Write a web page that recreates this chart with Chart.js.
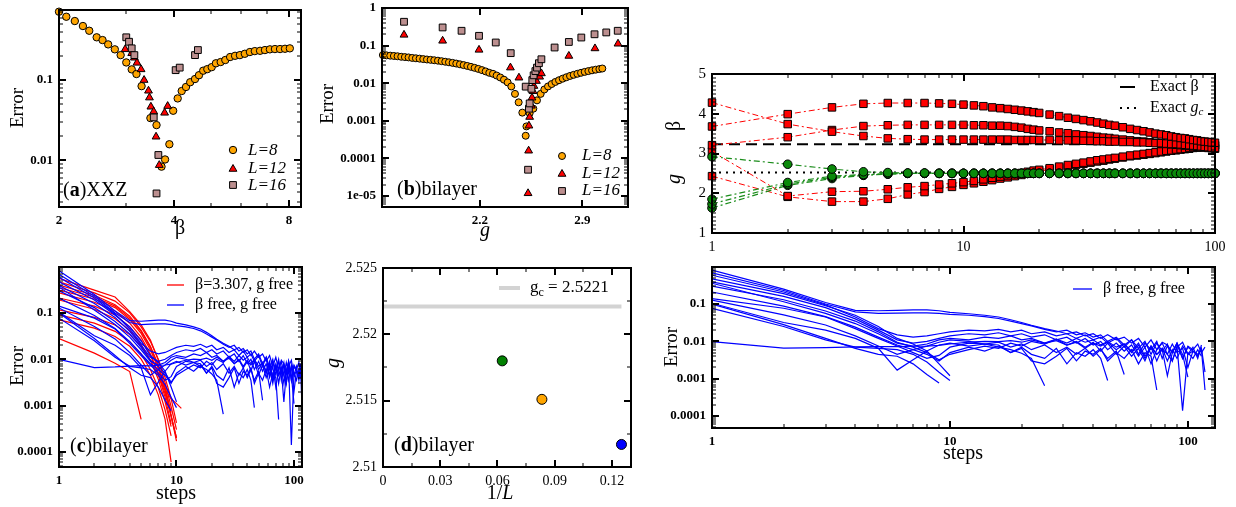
<!DOCTYPE html>
<html>
<head>
<meta charset="utf-8">
<title>Error and parameter convergence</title>
<script src="https://cdn.jsdelivr.net/npm/chart.js@4.4.1/dist/chart.umd.min.js"></script>
<style>
  body { margin: 0; background: #fff; }
  #page { position: relative; width: 1236px; height: 507px; overflow: hidden; background: #fff; }
  .panel { position: absolute; }
</style>
</head>
<body>
<div id="page"></div>
<script>
// ---- (a) XXZ: error vs beta ----
const betaA8 = [2.00,2.09,2.20,2.31,2.40,2.51,2.60,2.69,2.80,2.90,3.00,3.10,3.19,3.29,3.47,3.60,3.71,3.79,3.89,3.98,4.09,4.19,4.30,4.41,4.54,4.65,4.77,4.89,5.02,5.15,5.30,5.45,5.61,5.78,5.95,6.13,6.32,6.51,6.72,6.92,7.13,7.35,7.58,7.81,8.04];
const errA8 = [0.714,0.618,0.546,0.473,0.413,0.342,0.316,0.279,0.242,0.205,0.166,0.136,0.119,0.084,0.0335,0.0274,0.0083,0.0102,0.0158,0.0414,0.059,0.073,0.082,0.094,0.103,0.115,0.131,0.137,0.145,0.162,0.168,0.178,0.194,0.201,0.205,0.213,0.224,0.230,0.232,0.237,0.242,0.244,0.244,0.246,0.249];
const betaA12 = [2.98,3.10,3.15,3.20,3.28,3.34,3.43,3.45,3.48,3.54,3.59,3.66,3.78,3.85];
const errA12 = [0.242,0.216,0.19,0.164,0.136,0.100,0.0735,0.0604,0.0464,0.0404,0.0196,0.00866,0.039,0.0473];
const betaA16 = [3.00,3.05,3.10,3.15,3.54,3.60,3.64,4.04,4.14,4.54,4.62];
const errA16 = [0.342,0.301,0.249,0.205,0.0342,0.00384,0.0116,0.133,0.143,0.205,0.237];

// ---- (b) bilayer: error vs g ----
const gB8 = [1.54,1.565,1.59,1.615,1.64,1.665,1.69,1.715,1.74,1.765,1.79,1.815,1.84,1.865,1.89,1.915,1.94,1.965,1.99,2.015,2.04,2.065,2.09,2.115,2.14,2.165,2.19,2.215,2.24,2.265,2.29,2.315,2.34,2.365,2.39,2.415,2.44,2.465,2.49,2.513,2.518,2.54,2.565,2.59,2.615,2.64,2.665,2.69,2.715,2.74,2.765,2.79,2.815,2.84,2.865,2.89,2.915,2.94,2.965,2.99,3.015,3.035];
const errB8 = [0.056,0.055,0.054,0.053,0.052,0.0505,0.0495,0.0485,0.047,0.046,0.045,0.0438,0.0427,0.0418,0.0408,0.0397,0.0385,0.0372,0.036,0.0347,0.0333,0.0318,0.0303,0.0288,0.0272,0.0256,0.024,0.0223,0.0206,0.0189,0.0178,0.016,0.0142,0.0124,0.0105,0.0082,0.0052,0.0031,0.00165,0.0004,0.00071,0.0016,0.0021,0.0035,0.0052,0.0068,0.0082,0.0095,0.0108,0.0120,0.0132,0.0144,0.0156,0.0167,0.0178,0.0189,0.0200,0.0210,0.0220,0.0229,0.0238,0.0246];
const gB12 = [1.684,1.947,2.195,2.409,2.467,2.529,2.533,2.535,2.540,2.552,2.556,2.563,2.569,2.586,2.608,2.620,2.807,2.985,3.142];
const errB12 = [0.193,0.134,0.077,0.026,0.014,1.18e-5,1.6e-4,7.4e-4,1.26e-3,2.5e-3,4.1e-3,6.1e-3,8.4e-3,0.0114,0.0148,0.0182,0.053,0.084,0.112];
const gB16 = [1.684,1.947,2.076,2.195,2.309,2.411,2.513,2.529,2.535,2.540,2.552,2.558,2.567,2.579,2.590,2.603,2.620,2.710,2.807,2.892,2.982,3.062,3.140];
const errB16 = [0.43,0.304,0.248,0.182,0.121,0.063,0.0081,5e-5,0.0021,0.0029,0.0071,0.0121,0.0162,0.021,0.026,0.034,0.0433,0.089,0.125,0.164,0.20,0.224,0.248];

// ---- (c) and lower right: error vs steps ----
const stepsR = [1,2,3,4,5,6,7,8,9,10,11];
const redRuns = [
  [0.56,0.31,0.22,0.107,0.055,0.026,0.0096,0.0031,0.00094,0.0003],
  [0.47,0.27,0.18,0.1,0.05,0.024,0.01,0.004,0.0014,0.00042],
  [0.40,0.24,0.15,0.085,0.042,0.019,0.0075,0.0025,0.0007],
  [0.31,0.2,0.13,0.072,0.036,0.016,0.0062,0.0021,0.0006,0.00017],
  [0.27,0.17,0.11,0.06,0.03,0.013,0.0048,0.0015,0.0004],
  [0.21,0.14,0.09,0.05,0.026,0.012,0.005,0.0018,0.0006,0.0002],
  [0.19,0.12,0.075,0.042,0.021,0.0095,0.0037,0.0012,0.00035],
  [0.116,0.08,0.055,0.034,0.019,0.0095,0.0045,0.0022,0.0014,0.0011,0.00087],
  [0.091,0.06,0.04,0.024,0.013,0.006,0.0024,0.0008,0.00022],
  [0.071,0.047,0.031,0.019,0.01,0.0045,0.0017,0.0005,0.00006],
  [0.028,0.0135,0.0082,0.0054,0.0005],
  [0.35,0.22,0.14,0.078,0.04,0.018,0.007,0.0023,0.0006,0.0002]
];
const stepsB = [1,2,3,4,5,6,7,8,9,10,12,14,16,18,20,22,25,28,31,34,37,40,43,46,50,54,58,62,66,70,74,78,82,86,90,95,100,105,110,114,118];
const blueRuns = [
  [0.81,0.25,0.11,0.068,0.066,0.068,0.07,0.07,0.066,0.06,0.055,0.05,0.045,0.038,0.032,0.027,0.022,0.019,0.016,0.018,0.014,0.016,0.012,0.015,0.011,0.013,0.009,0.012,0.007,0.011,0.006,0.0095,0.008,0.005,0.009,0.0035,0.0075,0.006,0.0085,0.005,0.007],
  [0.68,0.23,0.1,0.062,0.056,0.057,0.058,0.058,0.056,0.053,0.05,0.046,0.041,0.035,0.03,0.026,0.021,0.018,0.02,0.015,0.017,0.013,0.015,0.01,0.013,0.008,0.011,0.0065,0.01,0.0045,0.009,0.0055,0.0085,0.003,0.007,0.0095,0.0045,0.007,0.0035,0.008],
  [0.59,0.21,0.095,0.045,0.022,0.015,0.013,0.014,0.016,0.018,0.02,0.019,0.021,0.018,0.02,0.016,0.018,0.014,0.016,0.012,0.015,0.011,0.013,0.009,0.012,0.007,0.011,0.0045,0.009,0.006,0.01,0.0035,0.0075,0.005,0.009,0.0045,0.0011],
  [0.39,0.16,0.08,0.04,0.02,0.011,0.009,0.01,0.012,0.014,0.016,0.015,0.017,0.014,0.016,0.013,0.015,0.011,0.013,0.009,0.012,0.008,0.01,0.006,0.009,0.0055,0.008,0.004,0.007,0.0025,0.006,0.009,0.0045,0.003,0.0075,0.00014,0.005,0.0035,0.006,0.004],
  [0.36,0.115,0.056,0.03,0.016,0.009,0.0075,0.0085,0.011,0.012,0.011,0.013,0.012,0.014,0.011,0.012,0.009,0.0115,0.008,0.01,0.007,0.0095,0.0055,0.009,0.0045,0.0075,0.004,0.0065,0.003,0.0075,0.0045,0.006,0.0012,0.005,0.0085,0.0035,0.007,0.0055,0.0045,0.006,0.0005],
  [0.21,0.088,0.046,0.024,0.013,0.008,0.006,0.0075,0.0095,0.011,0.01,0.0085,0.0095,0.007,0.0085,0.006,0.008,0.005,0.007,0.0045,0.0065,0.004,0.006,0.0035,0.0055,0.0013],
  [0.14,0.077,0.045,0.022,0.012,0.0075,0.005,0.0035,0.0042,0.007,0.009,0.0085,0.008,0.005,0.007,0.0045,0.0035,0.0065,0.0025,0.005,0.004,0.006,0.0035,0.0009],
  [0.128,0.051,0.0275,0.014,0.0075,0.0045,0.006,0.0045,0.003,0.005,0.007,0.0055,0.0075,0.005,0.0065,0.003,0.0025,0.004,0.0065,0.003,0.0055,0.0045,0.0065,0.003,0.005,0.0035,0.006,0.0025,0.005,0.004,0.0005],
  [0.105,0.032,0.02,0.012,0.0065,0.0017,0.0032,0.0055,0.008,0.009,0.0075,0.0085,0.007,0.006,0.0048,0.0035,0.00065],
  [0.099,0.028,0.012,0.0065,0.0045,0.004,0.0025,0.0013,0.00077],
  [0.077,0.025,0.011,0.007,0.0065,0.006,0.0045,0.0028,0.0015,0.0009],
  [0.0099,0.0066,0.0068,0.0071,0.0073,0.0072,0.0074,0.0075,0.0078,0.0085,0.0095,0.01,0.0098,0.0105,0.0095,0.011,0.009,0.0105,0.008,0.0095,0.0065,0.009,0.0075,0.0095,0.006,0.0085,0.005,0.008,0.0035,0.007,0.0045,0.0065,0.003,0.006,0.0035,0.0075,0.0045,0.0055,0.004,0.0065,0.0015],
  [0.3,0.13,0.065,0.035,0.018,0.0095,0.007,0.005,0.0032,0.0045,0.006,0.0075,0.0065,0.009,0.0075,0.01,0.0085,0.0115,0.009,0.012,0.0095,0.011,0.008,0.01,0.007,0.0085,0.0055,0.009,0.004,0.0075,0.003,0.0065,0.0045,0.0085,0.005,0.0065,0.002,0.0055],
  [0.47,0.19,0.09,0.05,0.025,0.012,0.0085,0.0055,0.0025,0.0012]
];

// ---- (d) finite-size g estimates ----
const invL = [0.0625, 0.0833, 0.125];
const gEst = [2.518, 2.5151, 2.5117];
const gEstColors = ['#008000', '#ffa500', '#0000ff'];
const gcExact = 2.5221;

// ---- upper right: beta and g vs steps ----
const stepsT = [1,2,3,4,5,6,7,8,9,10,11,12,13,14,15,16,17,18,19,20,22,24,26,28,30,32,34,36,38,40,43,46,49,52,55,58,61,64,67,70,73,76,79,82,85,88,91,94,97,100];
const betaRuns = [
  [3.68,3.99,4.16,4.25,4.27,4.27,4.27,4.26,4.25,4.23,4.21,4.19,4.16,4.14,4.12,4.10,4.08,4.06,4.04,4.02,3.98,3.94,3.90,3.87,3.84,3.81,3.78,3.75,3.72,3.70,3.66,3.62,3.59,3.56,3.53,3.50,3.48,3.46,3.43,3.41,3.39,3.38,3.36,3.34,3.33,3.31,3.30,3.29,3.28,3.27],
  [4.28,3.74,3.55,3.44,3.38,3.36,3.35,3.35,3.35,3.35,3.35,3.35,3.35,3.35,3.35,3.34,3.34,3.34,3.34,3.34,3.34,3.33,3.33,3.33,3.32,3.32,3.31,3.31,3.30,3.30,3.29,3.29,3.28,3.28,3.27,3.26,3.26,3.25,3.24,3.24,3.23,3.22,3.21,3.20,3.19,3.18,3.17,3.16,3.15,3.14],
  [3.21,3.41,3.59,3.69,3.71,3.72,3.72,3.72,3.72,3.72,3.71,3.71,3.70,3.70,3.69,3.67,3.65,3.62,3.60,3.58,3.56,3.53,3.51,3.48,3.46,3.44,3.42,3.40,3.39,3.37,3.35,3.33,3.31,3.30,3.28,3.27,3.25,3.24,3.23,3.22,3.21,3.20,3.19,3.18,3.17,3.16,3.15,3.14,3.13,3.12],
  [3.05,1.93,2.04,2.05,2.10,2.15,2.18,2.22,2.25,2.28,2.31,2.35,2.39,2.42,2.45,2.48,2.51,2.54,2.57,2.59,2.63,2.67,2.71,2.74,2.77,2.80,2.83,2.85,2.87,2.89,2.92,2.95,2.97,2.99,3.01,3.03,3.05,3.07,3.08,3.10,3.11,3.12,3.14,3.15,3.16,3.17,3.18,3.19,3.20,3.21],
  [2.43,1.91,1.79,1.79,1.86,1.97,2.03,2.11,2.16,2.21,2.25,2.29,2.33,2.37,2.40,2.43,2.46,2.49,2.52,2.55,2.60,2.64,2.68,2.71,2.74,2.77,2.80,2.82,2.85,2.87,2.90,2.93,2.95,2.97,2.99,3.01,3.03,3.05,3.07,3.08,3.10,3.11,3.12,3.14,3.15,3.16,3.17,3.18,3.19,3.20]
];
const gRuns = [
  [2.92,2.73,2.61,2.54,2.52,2.51,2.51,2.50,2.50,2.50,2.50,2.50,2.50,2.50,2.50,2.50,2.50,2.50,2.50,2.50,2.50,2.50,2.50,2.50,2.50,2.50,2.50,2.50,2.50,2.50,2.50,2.50,2.50,2.50,2.50,2.50,2.50,2.50,2.50,2.50,2.50,2.50,2.50,2.50,2.50,2.50,2.50,2.50,2.50,2.50],
  [1.85,2.27,2.43,2.47,2.49,2.50,2.50,2.50,2.50,2.50,2.50,2.50,2.50,2.50,2.50,2.50,2.50,2.50,2.50,2.50,2.50,2.50,2.50,2.50,2.50,2.50,2.50,2.50,2.50,2.50,2.50,2.50,2.50,2.50,2.50,2.50,2.50,2.50,2.50,2.50,2.50,2.50,2.50,2.50,2.50,2.50,2.50,2.50,2.50,2.50],
  [1.73,2.23,2.40,2.46,2.49,2.50,2.50,2.50,2.50,2.50,2.50,2.50,2.50,2.50,2.50,2.50,2.50,2.50,2.50,2.50,2.50,2.50,2.50,2.50,2.50,2.50,2.50,2.50,2.50,2.50,2.50,2.50,2.50,2.50,2.50,2.50,2.50,2.50,2.50,2.50,2.50,2.50,2.50,2.50,2.50,2.50,2.50,2.50,2.50,2.50],
  [1.63,2.20,2.37,2.45,2.48,2.50,2.50,2.50,2.50,2.50,2.50,2.50,2.50,2.50,2.50,2.50,2.50,2.50,2.50,2.50,2.50,2.50,2.50,2.50,2.50,2.50,2.50,2.50,2.50,2.50,2.50,2.50,2.50,2.50,2.50,2.50,2.50,2.50,2.50,2.50,2.50,2.50,2.50,2.50,2.50,2.50,2.50,2.50,2.50,2.50]
];
const betaExact = 3.23;
const gcLine = 2.5221;

// ---------------------------------------------------------------
const FAM = '"Liberation Serif", "Times New Roman", serif';
const F = (size, style) => (style ? style + ' ' : '') + size + 'px ' + FAM;
const tickBold = {family: FAM, size: 13, weight: 'bold'};
const tickNorm = {family: FAM, size: 14};

const pts = (xs, ys) => ys.map((y, i) => ({x: xs[i], y}));

function logTicks(lo, hi) {
  const out = [];
  for (let e = Math.floor(Math.log10(lo)); e <= Math.ceil(Math.log10(hi)); e++) {
    for (let k = 1; k < 10; k++) {
      const v = +(k * Math.pow(10, e)).toPrecision(6);
      if (v >= lo && v <= hi) out.push(v);
    }
  }
  return out;
}
function linTicks(lo, hi, st) {
  const out = [];
  for (let i = 0; lo + i * st <= hi + 1e-9; i++) out.push(+(lo + i * st).toFixed(6));
  return out;
}
const near = (list, v) => list.find(l => Math.abs(l - v) <= 1e-9 + 1e-6 * Math.abs(l));

// axis set-up and free text per canvas
const panelInfo = new WeakMap();

function axis(type, min, max, ticks, labels, font, fmt) {
  return {
    type, min, max,
    grid: {display: false, drawTicks: false},
    border: {display: false},
    afterBuildTicks: s => { s.ticks = ticks.map(v => ({value: v})); },
    ticks: {
      autoSkip: false, maxRotation: 0, minRotation: 0, padding: 6, color: '#000', font,
      callback: v => {
        const u = near(labels, v);
        return u === undefined ? '' : (fmt ? fmt(u) : String(u));
      }
    },
    $spec: {type, min, max, list: ticks, labels}
  };
}

function mark(ctx, st, x, y, r, fill) {
  ctx.beginPath();
  if (st === 'circle') ctx.arc(x, y, r, 0, Math.PI * 2);
  else if (st === 'triangle') {
    ctx.moveTo(x, y - r); ctx.lineTo(x + r * 0.866, y + r * 0.5); ctx.lineTo(x - r * 0.866, y + r * 0.5); ctx.closePath();
  } else { const h = r * Math.SQRT1_2; ctx.rect(x - h, y - h, 2 * h, 2 * h); }
  ctx.fillStyle = fill; ctx.fill();
  ctx.lineWidth = 1; ctx.strokeStyle = '#000'; ctx.stroke();
}

// fraction along an axis for a tick value
function frac(sp, v) {
  if (sp.type === 'logarithmic') return (Math.log10(v) - Math.log10(sp.min)) / (Math.log10(sp.max) - Math.log10(sp.min));
  return (v - sp.min) / (sp.max - sp.min);
}

// closed frame with inward tick marks on all four sides
function drawFrame(ctx, a, info) {
  ctx.save();
  ctx.fillStyle = '#000';
  const W = a.right - a.left, H = a.bottom - a.top;
  ['x', 'y'].forEach(id => {
    const sp = info[id];
    sp.list.forEach(v => {
      const f = frac(sp, v);
      if (!(f > 0.003 && f < 0.997)) return;
      const major = near(sp.labels, v) !== undefined;
      const len = major ? 7 : 4, th = major ? 2 : 1;
      if (id === 'x') {
        const p = Math.round(a.left + f * W) - th / 2;
        ctx.fillRect(p, a.bottom - len, th, len);
        ctx.fillRect(p, a.top, th, len);
      } else {
        const p = Math.round(a.bottom - f * H) - th / 2;
        ctx.fillRect(a.left, p, len, th);
        ctx.fillRect(a.right - len, p, len, th);
      }
    });
  });
  ctx.strokeStyle = '#000';
  ctx.setLineDash([]);
  ctx.lineWidth = 2;
  ctx.strokeRect(a.left, a.top, W, H);
  ctx.restore();
}

const deco = {
  id: 'deco',
  afterDraw(chart) {
    const ctx = chart.ctx;
    const info = panelInfo.get(chart.canvas);
    drawFrame(ctx, chart.chartArea, info);
    const {ox, oy, items} = info;
    items.forEach(it => {
      ctx.save();
      if (it.k === 'l') {
        ctx.strokeStyle = it.c; ctx.lineWidth = it.w || 1.2;
        ctx.setLineDash(it.d || []);
        ctx.beginPath(); ctx.moveTo(it.x1 - ox, it.y - oy); ctx.lineTo(it.x2 - ox, it.y - oy); ctx.stroke();
      } else if (it.k === 'p') {
        mark(ctx, it.st, it.x - ox, it.y - oy, it.r, it.f);
      } else {
        ctx.translate(it.x - ox, it.y - oy);
        if (it.rot) ctx.rotate(it.rot);
        ctx.textBaseline = 'middle'; ctx.textAlign = 'left'; ctx.fillStyle = '#000';
        let w = 0;
        it.s.forEach(([t, f]) => { ctx.font = f; w += ctx.measureText(t).width; });
        let x = it.al === 'c' ? -w / 2 : 0;
        it.s.forEach(([t, f, dy]) => { ctx.font = f; ctx.fillText(t, x, dy || 0); x += ctx.measureText(t).width; });
      }
      ctx.restore();
    });
  }
};

// area = chart area in page pixels [l, t, r, b]; pad = room around it [l, t, r, b]
function mk(area, pad, datasets, scales, items) {
  const left = area[0] - pad[0], top = area[1] - pad[1];
  const w = area[2] - area[0] + pad[0] + pad[2], h = area[3] - area[1] + pad[1] + pad[3];
  const div = document.createElement('div');
  div.className = 'panel';
  div.style.cssText = `left:${left}px;top:${top}px;width:${w}px;height:${h}px`;
  const cv = document.createElement('canvas');
  cv.width = w; cv.height = h;
  div.appendChild(cv);
  document.getElementById('page').appendChild(div);
  panelInfo.set(cv, {ox: left, oy: top, items, x: scales.x.$spec, y: scales.y.$spec});
  delete scales.x.$spec; delete scales.y.$spec;
  scales.x.afterFit = s => { s.height = pad[3]; s.paddingLeft = 0; s.paddingRight = 0; };
  scales.y.afterFit = s => { s.width = pad[0]; s.paddingTop = 0; s.paddingBottom = 0; };
  return new Chart(cv, {
    type: 'scatter',
    data: {datasets},
    options: {
      responsive: false, animation: false, events: [],
      layout: {padding: {left: 0, top: pad[1], right: pad[2], bottom: 0}},
      scales,
      plugins: {legend: {display: false}, tooltip: {enabled: false}}
    },
    plugins: [deco]
  });
}

const sym = (data, st, r, fill, order) => ({
  data, showLine: false, pointStyle: st, pointRadius: r, pointBackgroundColor: fill,
  pointBorderColor: '#000', pointBorderWidth: 1, order, clip: false
});
const run = (data, color, w) => ({
  data, showLine: true, borderColor: color, borderWidth: w || 1.2, pointRadius: 0, fill: false
});
const decLabel = u => u < 1e-4 ? '1e-05' : String(u);
const ROT = -Math.PI / 2;

// (a)
mk([59, 10, 301, 207], [59, 10, 12, 40], [
  sym(pts(betaA16, errA16), 'rect', 4.8, '#bc8f8f', 0),
  sym(pts(betaA12, errA12), 'triangle', 4.5, '#ff0000', 1),
  sym(pts(betaA8, errA8), 'circle', 3.7, '#ffa500', 2)
], {
  x: axis('logarithmic', 2, 8.6, logTicks(2, 8.6), [2, 4, 8], tickBold),
  y: axis('logarithmic', 0.0026, 0.75, logTicks(0.0026, 0.75), [0.1, 0.01], tickBold)
}, [
  {x: 18, y: 108, rot: ROT, al: 'c', s: [['Error', F(19)]]},
  {x: 180, y: 229, al: 'c', s: [['β', F(20)]]},
  {x: 63, y: 191, s: [['(', F(20)], ['a', F(20, 'bold')], [')XXZ', F(20)]]},
  {k: 'p', st: 'circle', x: 233, y: 150, r: 3.7, f: '#ffa500'},
  {k: 'p', st: 'triangle', x: 233, y: 169, r: 4.5, f: '#ff0000'},
  {k: 'p', st: 'rect', x: 233, y: 185, r: 4.8, f: '#bc8f8f'},
  {x: 248, y: 151, s: [['L=8', F(17, 'italic')]]},
  {x: 248, y: 169, s: [['L=12', F(17, 'italic')]]},
  {x: 248, y: 186, s: [['L=16', F(17, 'italic')]]}
]);

// (b)
mk([382, 8, 628, 207], [68, 8, 8, 40], [
  sym(pts(gB16, errB16), 'rect', 4.8, '#bc8f8f', 0),
  sym(pts(gB12, errB12), 'triangle', 4.5, '#ff0000', 1),
  sym(pts(gB8, errB8), 'circle', 3.5, '#ffa500', 2)
], {
  x: axis('linear', 1.534, 3.21, [2.2, 2.9], [2.2, 2.9], tickBold),
  y: axis('logarithmic', 5.1e-6, 1, logTicks(5.1e-6, 1), [1, 0.1, 0.01, 0.001, 0.0001, 1e-5], tickBold, decLabel)
}, [
  {x: 328, y: 104, rot: ROT, al: 'c', s: [['Error', F(19)]]},
  {x: 485, y: 231, al: 'c', s: [['g', F(20, 'italic')]]},
  {x: 397, y: 190, s: [['(', F(20)], ['b', F(20, 'bold')], [')bilayer', F(20)]]},
  {k: 'p', st: 'circle', x: 562, y: 156, r: 3.5, f: '#ffa500'},
  {k: 'p', st: 'triangle', x: 562, y: 174, r: 4.5, f: '#ff0000'},
  {k: 'p', st: 'rect', x: 562, y: 191, r: 4.8, f: '#bc8f8f'},
  {x: 582, y: 156, s: [['L=8', F(17, 'italic')]]},
  {x: 582, y: 174, s: [['L=12', F(17, 'italic')]]},
  {x: 582, y: 191, s: [['L=16', F(17, 'italic')]]}
]);

// (c)
mk([59, 267, 302, 467], [59, 20, 12, 40], [
  ...blueRuns.map(r => run(pts(stepsB, r), '#0000ff')),
  ...redRuns.map(r => run(pts(stepsR, r), '#ff0000'))
], {
  x: axis('logarithmic', 1, 117, logTicks(1, 117), [1, 10, 100], tickBold),
  y: axis('logarithmic', 4.7e-5, 0.98, logTicks(4.7e-5, 0.98), [0.1, 0.01, 0.001, 0.0001], tickBold)
}, [
  {x: 18, y: 366, rot: ROT, al: 'c', s: [['Error', F(19)]]},
  {x: 176, y: 494, al: 'c', s: [['steps', F(20)]]},
  {x: 70, y: 447, s: [['(', F(20)], ['c', F(20, 'bold')], [')bilayer', F(20)]]},
  {k: 'l', x1: 167, x2: 184, y: 285, c: '#ff0000', w: 1.3},
  {k: 'l', x1: 167, x2: 184, y: 305, c: '#0000ff', w: 1.3},
  {x: 195, y: 285, s: [['β=3.307, g free', F(16)]]},
  {x: 195, y: 305, s: [['β free, g free', F(16)]]}
]);

// (d)
mk([383, 268, 631, 467], [68, 20, 10, 40], [
  sym(pts(invL, gEst), 'circle', 5, gEstColors, 0),
  {data: [{x: 0, y: gcExact}, {x: 0.125, y: gcExact}], showLine: true, borderColor: '#d3d3d3', borderWidth: 4, pointRadius: 0, order: 1}
], {
  x: axis('linear', 0, 0.13, linTicks(0, 0.13, 0.015), [0, 0.03, 0.06, 0.09, 0.12], tickNorm),
  y: axis('linear', 2.51, 2.525, linTicks(2.51, 2.525, 0.0025), [2.51, 2.515, 2.52, 2.525], tickNorm)
}, [
  {x: 334, y: 363, rot: ROT, al: 'c', s: [['g', F(20, 'italic')]]},
  {x: 500, y: 494, al: 'c', s: [['1/', F(20)], ['L', F(20, 'italic')]]},
  {x: 394, y: 446, s: [['(', F(20)], ['d', F(20, 'bold')], [')bilayer', F(20)]]},
  {k: 'l', x1: 499, x2: 520, y: 288, c: '#d3d3d3', w: 4},
  {x: 530, y: 288, s: [['g', F(17)], ['c', F(12), 5], [' = 2.5221', F(17)]]}
]);

// upper right
mk([712, 74, 1215, 233], [60, 30, 15, 30], [
  ...gRuns.map(r => ({
    data: pts(stepsT, r), showLine: true, borderColor: '#1a8c1a', borderWidth: 1.2, borderDash: [6, 3, 2, 3],
    pointStyle: 'circle', pointRadius: 4.3, pointBackgroundColor: '#0a8a0a', pointBorderColor: '#000', pointBorderWidth: 1, order: 0, clip: false
  })),
  ...betaRuns.map(r => ({
    data: pts(stepsT, r), showLine: true, borderColor: '#ff0000', borderWidth: 1, borderDash: [6, 3, 2, 3],
    pointStyle: 'rect', pointRadius: 5.3, pointBackgroundColor: '#ff0000', pointBorderColor: '#000', pointBorderWidth: 1, order: 1, clip: false
  })),
  {data: [{x: 1, y: betaExact}, {x: 100, y: betaExact}], showLine: true, borderColor: '#000', borderWidth: 2, borderDash: [11, 6], pointRadius: 0, order: 2},
  {data: [{x: 1, y: gcLine}, {x: 100, y: gcLine}], showLine: true, borderColor: '#000', borderWidth: 2, borderDash: [2, 5], pointRadius: 0, order: 2}
], {
  x: axis('logarithmic', 1, 100, logTicks(1, 100), [1, 10, 100], tickNorm),
  y: axis('linear', 1, 5, linTicks(1, 5, 0.1), [1, 2, 3, 4, 5], {family: FAM, size: 15})
}, [
  {x: 675, y: 126, rot: ROT, al: 'c', s: [['β', F(20)]]},
  {x: 675, y: 179, rot: ROT, al: 'c', s: [['g', F(20, 'italic')]]},
  {k: 'l', x1: 1120, x2: 1135, y: 87, c: '#000', w: 2},
  {k: 'l', x1: 1120, x2: 1136, y: 108, c: '#000', w: 2, d: [2, 5]},
  {x: 1150, y: 87, s: [['Exact β', F(16)]]},
  {x: 1150, y: 108, s: [['Exact ', F(16)], ['g', F(16, 'italic')], ['c', F(11, 'italic'), 4]]}
]);

// lower right
mk([712, 267, 1215, 428], [60, 15, 15, 45], blueRuns.map(r => run(pts(stepsB, r), '#0000ff')), {
  x: axis('logarithmic', 1, 130, logTicks(1, 130), [1, 10, 100], tickBold),
  y: axis('logarithmic', 4.8e-5, 0.98, logTicks(4.8e-5, 0.98), [0.1, 0.01, 0.001, 0.0001], tickBold)
}, [
  {x: 672, y: 347, rot: ROT, al: 'c', s: [['Error', F(19)]]},
  {x: 963, y: 454, al: 'c', s: [['steps', F(20)]]},
  {k: 'l', x1: 1073, x2: 1092, y: 289, c: '#0000ff', w: 1.3},
  {x: 1103, y: 289, s: [['β free, g free', F(16)]]}
]);
</script>
</body>
</html>
